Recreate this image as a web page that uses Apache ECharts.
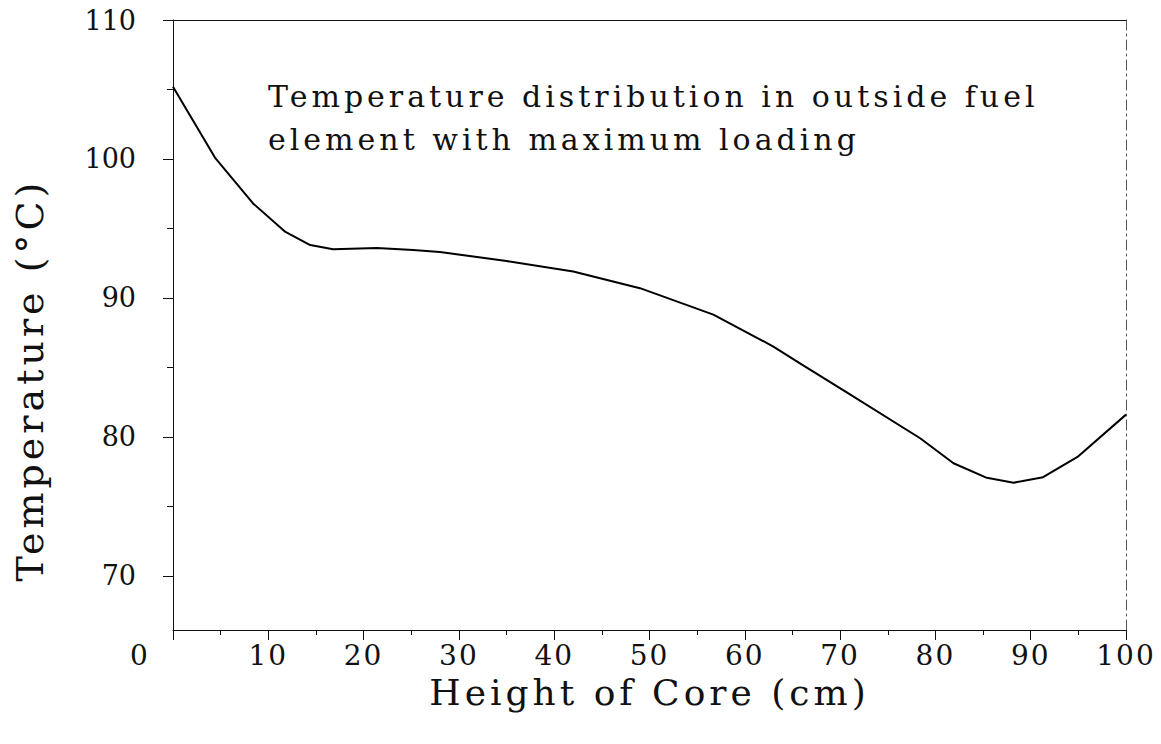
<!DOCTYPE html>
<html>
<head>
<meta charset="utf-8">
<script src="https://cdn.jsdelivr.net/npm/echarts@6/dist/echarts.min.js"></script>
<style>
  html, body { margin: 0; padding: 0; background: #fff; }
  #chart { width: 1161px; height: 744px; }
  /* 原图字距很宽，只给大号文字加字距 */
  #chart text[style*="30px"], #chart text[style*="36px"], #chart text[style*="38px"] { letter-spacing: 4px; }
  #chart text[style*="28px"] { letter-spacing: 2px; }
</style>
</head>
<body>
<div id="chart"></div>
<script>
// 读图得到的数据
var heights = [0, 4.4, 8.4, 11.8, 14.4, 16.8, 21.4, 25.2, 28, 31.9, 35, 42, 49, 56.7, 63, 66, 70.7, 78.4, 81.9, 85.4, 88.2, 91.3, 95, 100];
var temps = [105.2, 100.1, 96.8, 94.75, 93.8, 93.5, 93.6, 93.45, 93.3, 92.95, 92.65, 91.9, 90.7, 88.8, 86.5, 85.2, 83.2, 79.9, 78.1, 77.05, 76.7, 77.1, 78.6, 81.6];
var yMajor = [70, 80, 90, 100, 110];
var yMinor = [75, 85, 95, 105];
var noteLines = ['Temperature distribution in outside fuel', 'element with maximum loading'];

var font = 'DejaVu Serif';
var ink = '#111';

(function()
{
	var mychart = echarts.init(document.getElementById('chart'), null, { renderer: 'svg' });
	var points = heights.map(function(h, i) { return [h, temps[i]]; });

	var option = {
		backgroundColor: '#fff',
		animation: false,
		grid: { left: 173, right: 35, top: 20, bottom: 114 },
		xAxis: [{
			type: 'value',
			min: 0,
			max: 100,
			interval: 10,
			name: 'Height of Core (cm)',
			nameLocation: 'middle',
			nameGap: 44,
			nameTextStyle: { fontFamily: font, fontSize: 36, color: ink },
			axisLine: { lineStyle: { color: ink, width: 1 } },
			axisTick: { length: 10, lineStyle: { color: ink } },
			minorTick: { show: true, splitNumber: 2, length: 5, lineStyle: { color: ink } },
			splitLine: { show: false },
			axisLabel: {
				margin: 11,
				fontFamily: font,
				fontSize: 28,
				color: ink,
				formatter: function(v) { return v === 0 ? '{z|0}' : String(v); },
				rich: { z: { fontFamily: font, fontSize: 28, color: ink, padding: [0, 66, 0, 0] } }
			}
		}, {
			// 顶部边框
			type: 'value',
			position: 'top',
			min: 0,
			max: 100,
			axisLine: { show: true, lineStyle: { color: ink, width: 1 } },
			axisTick: { show: false },
			axisLabel: { show: false },
			splitLine: { show: false }
		}],
		yAxis: [{
			type: 'value',
			min: 66.1,
			max: 110,
			axisLine: { show: true, lineStyle: { color: ink, width: 1 } },
			axisTick: { show: true, length: 10, customValues: yMajor, lineStyle: { color: ink } },
			splitLine: { show: false },
			axisLabel: {
				customValues: yMajor,
				margin: 37,
				fontFamily: font,
				fontSize: 27,
				color: ink
			}
		}, {
			// 次刻度
			type: 'value',
			position: 'left',
			min: 66.1,
			max: 110,
			axisLine: { show: false },
			axisTick: { show: true, length: 6, customValues: yMinor, lineStyle: { color: ink } },
			axisLabel: { show: false },
			splitLine: { show: false }
		}, {
			// 右侧虚线边框
			type: 'value',
			position: 'right',
			min: 66.1,
			max: 110,
			axisLine: { show: true, lineStyle: { color: '#555', width: 1, type: [10, 4, 2, 4] } },
			axisTick: { show: false },
			axisLabel: { show: false },
			splitLine: { show: false }
		}],
		graphic: [{
			type: 'text',
			left: 268,
			top: 75,
			style: {
				text: noteLines.join('\n'),
				fontFamily: font,
				fontSize: 30,
				lineHeight: 43,
				fill: ink
			}
		}, {
			type: 'text',
			x: 30,
			y: 380,
			rotation: Math.PI / 2,
			style: {
				text: 'Temperature (\u00b0C)',
				fontFamily: font,
				fontSize: 38,
				fill: ink,
				align: 'center',
				verticalAlign: 'middle'
			}
		}],
		series: [{
			type: 'line',
			data: points,
			symbol: 'none',
			smooth: false,
			lineStyle: { color: '#000', width: 2 }
		}]
	};
	mychart.setOption(option);
})();
</script>
</body>
</html>
